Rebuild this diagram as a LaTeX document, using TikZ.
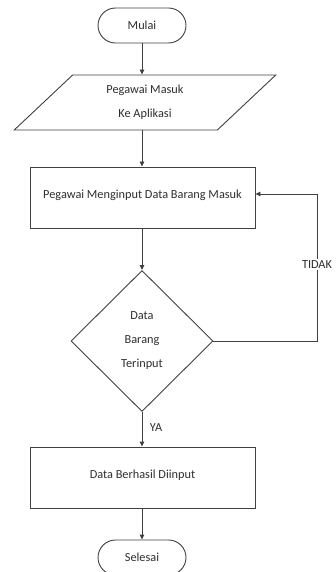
\documentclass[tikz,border=0pt]{standalone}
\usepackage{fontspec}
\setmainfont{Carlito}
\usetikzlibrary{shapes.geometric,arrows.meta}
\definecolor{ink}{HTML}{2E2E2E}
\definecolor{edge}{HTML}{404040}
\tikzset{
  base/.style={draw=edge, line width=0.9pt, text=ink, inner sep=0pt,
    font=\fontsize{12.3}{24}\selectfont, align=center},
  terminal/.style={base, rectangle, rounded corners=17.5pt,
    minimum width=88pt, minimum height=35pt},
  iobox/.style={base, trapezium, trapezium left angle=48, trapezium right angle=132,
    trapezium stretches=true, minimum width=262pt, minimum height=55pt},
  procbox/.style={base, rectangle, minimum width=225pt, minimum height=61pt, text depth=7pt},
  decision/.style={base, diamond, minimum width=142pt, minimum height=141pt},
  flow/.style={draw=edge, line width=0.9pt, -{Triangle[length=5pt,width=4.5pt]}},
  lbl/.style={text=ink, font=\fontsize{12.3}{14}\selectfont, inner sep=1.5pt}
}
\begin{document}
\begin{tikzpicture}[x=1pt,y=-1pt]
  \useasboundingbox (0,0) rectangle (335,572);
  \node[terminal] (start) at (142,25.5) {Mulai};
  \node[iobox] (login) at (145,102.5) {Pegawai Masuk\\Ke Aplikasi};
  \node[procbox] (input) at (142.5,197.5) {Pegawai Menginput Data Barang Masuk};
  \node[decision] (check) at (142,341) {Data\\Barang\\Terinput};
  \node[procbox] (done) at (142.5,477.5) {Data Berhasil Diinput};
  \node[terminal] (stop) at (142,557.5) {Selesai};
  \coordinate (loopdown) at (317,341);
  \coordinate (loopup) at (317,194);

  \draw[flow] (start.south) -- (start.south |- login.north);
  \draw[flow] (start.south |- login.south) -- (input.north -| start.south);
  \draw[flow] (input.south -| check.north) -- (check.north);
  \draw[flow] (check.south) -- node[lbl, right=6pt, pos=0.45] (ya) {YA} (check.south |- done.north);
  \draw[flow] (done.south -| stop.north) -- (stop.north);
  \draw[flow] (check.east) -- (loopdown) -- node[lbl, fill=white, pos=0.52] (tidak) {TIDAK} (loopup) -- (input.east |- loopup);
\end{tikzpicture}
\end{document}
